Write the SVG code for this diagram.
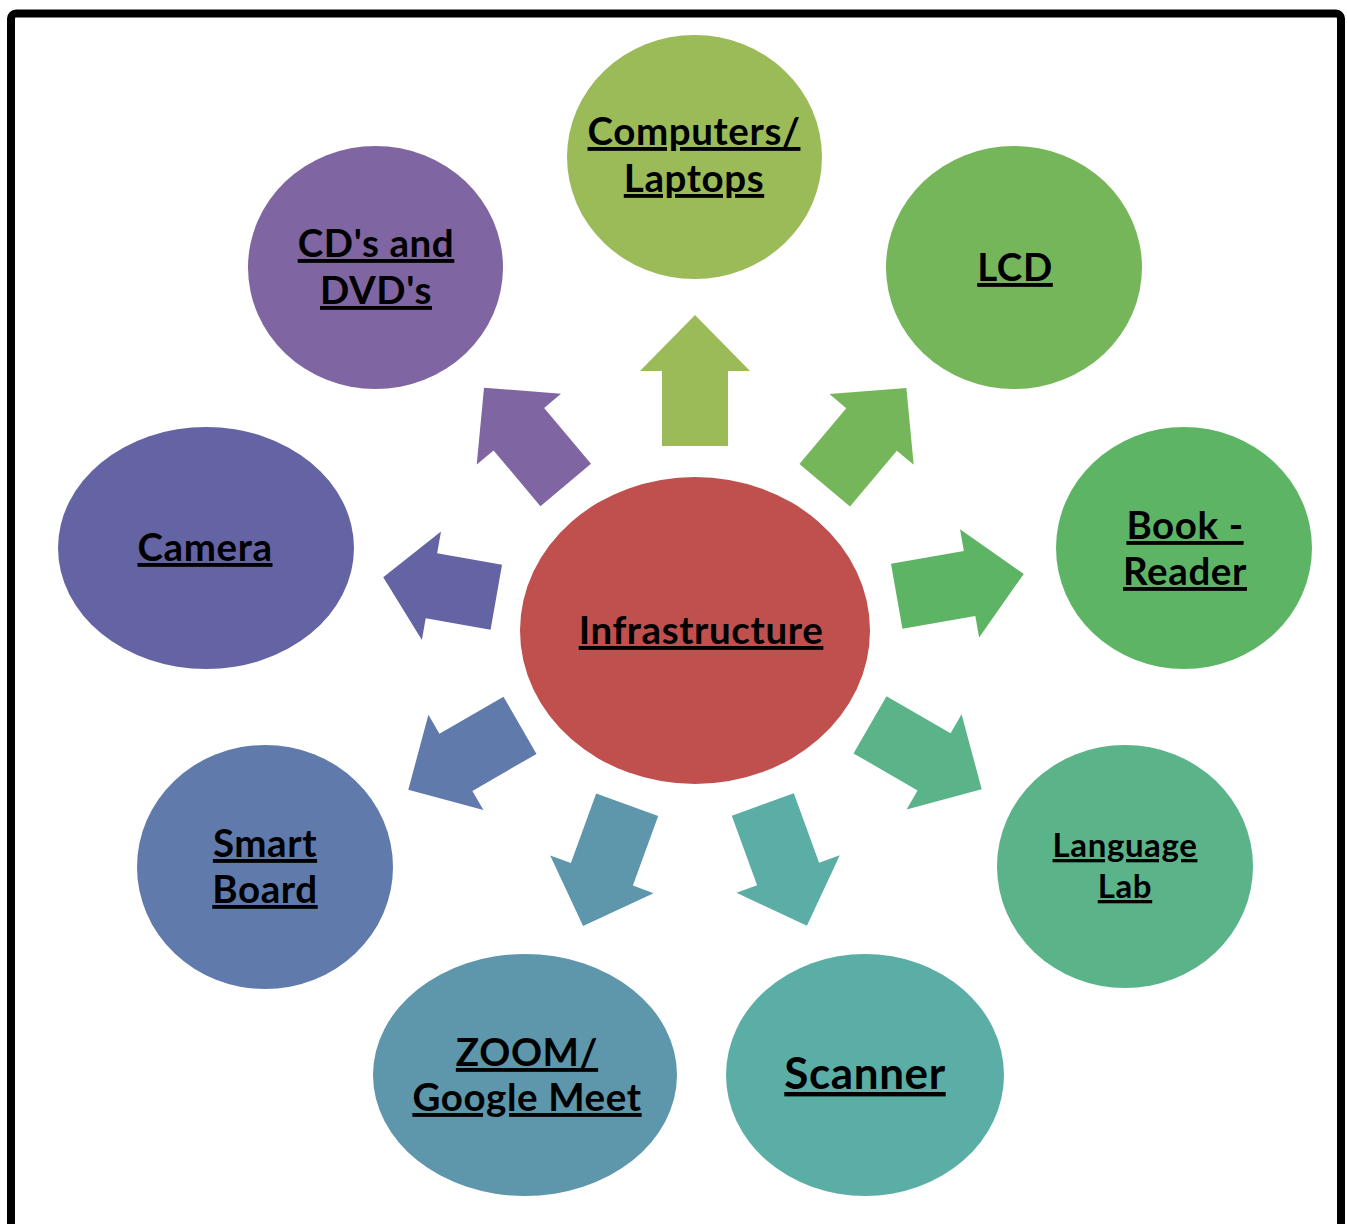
<svg xmlns="http://www.w3.org/2000/svg" width="1347" height="1224" viewBox="0 0 1347 1224">
<style>
text{font-family:Lato,"Open Sans","Liberation Sans",sans-serif;font-weight:bold;fill:#000;text-anchor:middle;text-decoration:underline;font-size:38.5px;letter-spacing:0.6px}
.sm{font-size:33px}
.lg{font-size:44px}
</style>
<defs>
<polygon id="arr" points="0,-129 55,-74 33,-74 33,0 -33,0 -33,-74 -55,-74"/>
</defs>
<rect x="11" y="13.5" width="1330" height="1300" rx="5" fill="#fff" stroke="#000" stroke-width="8"/>
<g id="connectors">
<use href="#arr" fill="#9BBB59" transform="translate(695,446) rotate(0) scale(1,1.015)"/>
<use href="#arr" fill="#76B65A" transform="translate(824.7,485.3) rotate(40) scale(1,0.985)"/>
<use href="#arr" fill="#5EB465" transform="translate(896.7,596.3) rotate(80)"/>
<use href="#arr" fill="#5BB38A" transform="translate(870,724.8) rotate(120)"/>
<use href="#arr" fill="#5BAEA6" transform="translate(762.8,804.5) rotate(160)"/>
<use href="#arr" fill="#5E96AC" transform="translate(627.2,804.8) rotate(200)"/>
<use href="#arr" fill="#5F7AAB" transform="translate(520,725.3) rotate(240)"/>
<use href="#arr" fill="#6464A4" transform="translate(496.3,597.2) rotate(280) scale(1,0.89)"/>
<use href="#arr" fill="#7F65A1" transform="translate(565.7,485) rotate(320) scale(1,0.985)"/>
</g>
<g id="center">
<ellipse cx="695" cy="630.5" rx="175" ry="153.5" fill="#C0504D"/>
<text x="701" y="644">Infrastructure</text>
</g>
<g id="computers">
<ellipse cx="694.5" cy="157" rx="127.5" ry="122" fill="#9BBB59"/>
<text x="694" y="145">Computers/</text>
<text x="694" y="192">Laptops</text>
</g>
<g id="lcd">
<ellipse cx="1014" cy="267.5" rx="128" ry="121.5" fill="#76B65A"/>
<text x="1015" y="281">LCD</text>
</g>
<g id="bookreader">
<ellipse cx="1184" cy="548" rx="128" ry="121" fill="#5EB465"/>
<text x="1185" y="539">Book -</text>
<text x="1185" y="585">Reader</text>
</g>
<g id="languagelab">
<ellipse cx="1125" cy="866.5" rx="128" ry="121.5" fill="#5BB38A"/>
<text class="sm" x="1125" y="857">Language</text>
<text class="sm" x="1125" y="898">Lab</text>
</g>
<g id="scanner">
<ellipse cx="865" cy="1075" rx="139" ry="121" fill="#5BAEA6"/>
<text class="lg" x="865" y="1089">Scanner</text>
</g>
<g id="zoom">
<ellipse cx="525" cy="1075" rx="152" ry="121" fill="#5E96AC"/>
<text x="527" y="1066">ZOOM/</text>
<text x="527" y="1111">Google Meet</text>
</g>
<g id="smartboard">
<ellipse cx="265" cy="867" rx="128" ry="122" fill="#5F7AAB"/>
<text x="265" y="857">Smart</text>
<text x="265" y="903">Board</text>
</g>
<g id="camera">
<ellipse cx="206" cy="548" rx="148" ry="121" fill="#6464A4"/>
<text x="205" y="561">Camera</text>
</g>
<g id="cds">
<ellipse cx="375.5" cy="267.5" rx="127.5" ry="121.5" fill="#7F65A1"/>
<text x="376" y="257">CD's and</text>
<text x="376" y="304">DVD's</text>
</g>
</svg>
